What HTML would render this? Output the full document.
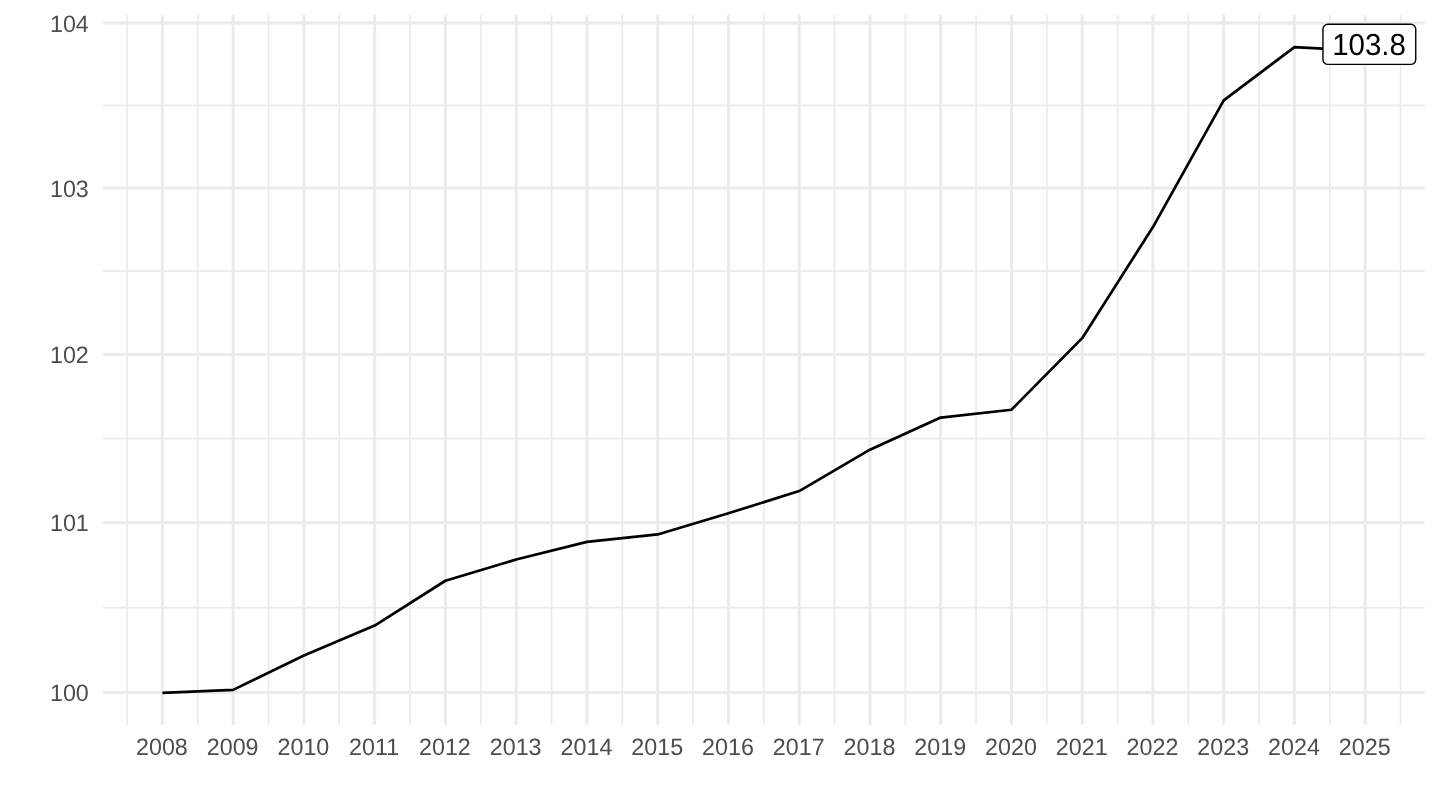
<!DOCTYPE html><html><head><meta charset="utf-8"><style>html,body{margin:0;padding:0;background:#fff;}svg{display:block;will-change:transform;text-rendering:geometricPrecision}</style></head><body>
<svg width="1440" height="810" viewBox="0 0 1440 810">
<rect width="1440" height="810" fill="#fff"/>
<g stroke="#EBEBEB" stroke-width="1.7"><line x1="102.9" x2="1424.8" y1="607.57" y2="607.57"/><line x1="102.9" x2="1424.8" y1="438.55" y2="438.55"/><line x1="102.9" x2="1424.8" y1="271.19" y2="271.19"/><line x1="102.9" x2="1424.8" y1="105.45" y2="105.45"/><line x1="127.02" x2="127.02" y1="14.9" y2="724.8"/><line x1="197.78" x2="197.78" y1="14.9" y2="724.8"/><line x1="268.53" x2="268.53" y1="14.9" y2="724.8"/><line x1="339.28" x2="339.28" y1="14.9" y2="724.8"/><line x1="410.04" x2="410.04" y1="14.9" y2="724.8"/><line x1="480.79" x2="480.79" y1="14.9" y2="724.8"/><line x1="551.54" x2="551.54" y1="14.9" y2="724.8"/><line x1="622.29" x2="622.29" y1="14.9" y2="724.8"/><line x1="693.05" x2="693.05" y1="14.9" y2="724.8"/><line x1="763.80" x2="763.80" y1="14.9" y2="724.8"/><line x1="834.55" x2="834.55" y1="14.9" y2="724.8"/><line x1="905.31" x2="905.31" y1="14.9" y2="724.8"/><line x1="976.06" x2="976.06" y1="14.9" y2="724.8"/><line x1="1046.81" x2="1046.81" y1="14.9" y2="724.8"/><line x1="1117.57" x2="1117.57" y1="14.9" y2="724.8"/><line x1="1188.32" x2="1188.32" y1="14.9" y2="724.8"/><line x1="1259.07" x2="1259.07" y1="14.9" y2="724.8"/><line x1="1329.82" x2="1329.82" y1="14.9" y2="724.8"/><line x1="1400.58" x2="1400.58" y1="14.9" y2="724.8"/></g>
<g stroke="#EBEBEB" stroke-width="3.0"><line x1="102.9" x2="1424.8" y1="692.50" y2="692.50"/><line x1="102.9" x2="1424.8" y1="522.64" y2="522.64"/><line x1="102.9" x2="1424.8" y1="354.46" y2="354.46"/><line x1="102.9" x2="1424.8" y1="187.92" y2="187.92"/><line x1="102.9" x2="1424.8" y1="22.99" y2="22.99"/><line x1="162.40" x2="162.40" y1="14.9" y2="724.8"/><line x1="233.15" x2="233.15" y1="14.9" y2="724.8"/><line x1="303.91" x2="303.91" y1="14.9" y2="724.8"/><line x1="374.66" x2="374.66" y1="14.9" y2="724.8"/><line x1="445.41" x2="445.41" y1="14.9" y2="724.8"/><line x1="516.16" x2="516.16" y1="14.9" y2="724.8"/><line x1="586.92" x2="586.92" y1="14.9" y2="724.8"/><line x1="657.67" x2="657.67" y1="14.9" y2="724.8"/><line x1="728.42" x2="728.42" y1="14.9" y2="724.8"/><line x1="799.18" x2="799.18" y1="14.9" y2="724.8"/><line x1="869.93" x2="869.93" y1="14.9" y2="724.8"/><line x1="940.68" x2="940.68" y1="14.9" y2="724.8"/><line x1="1011.44" x2="1011.44" y1="14.9" y2="724.8"/><line x1="1082.19" x2="1082.19" y1="14.9" y2="724.8"/><line x1="1152.94" x2="1152.94" y1="14.9" y2="724.8"/><line x1="1223.70" x2="1223.70" y1="14.9" y2="724.8"/><line x1="1294.45" x2="1294.45" y1="14.9" y2="724.8"/><line x1="1365.20" x2="1365.20" y1="14.9" y2="724.8"/></g>
<polyline points="162.40,692.85 233.15,689.85 303.91,655.55 374.66,625.55 445.41,580.75 516.16,559.55 586.92,541.85 657.67,534.45 728.42,513.25 799.18,491.05 869.93,449.65 940.68,417.55 1011.44,409.75 1082.19,338.15 1152.94,227.05 1223.70,100.45 1294.45,47.05 1365.20,50.85" fill="none" stroke="#000" stroke-width="2.7" stroke-linejoin="round" stroke-linecap="butt"/>
<g font-family="&quot;Liberation Sans&quot;, Arial, sans-serif" font-size="23.3" fill="#4D4D4D">
<text transform="translate(88.8,701.20) scale(1,1.02)" text-anchor="end">100</text>
<text transform="translate(88.8,531.34) scale(1,1.02)" text-anchor="end">101</text>
<text transform="translate(88.8,363.16) scale(1,1.02)" text-anchor="end">102</text>
<text transform="translate(88.8,196.62) scale(1,1.02)" text-anchor="end">103</text>
<text transform="translate(88.8,31.69) scale(1,1.02)" text-anchor="end">104</text>
<text transform="translate(161.90,754.8) scale(1,1.02)" text-anchor="middle">2008</text>
<text transform="translate(232.65,754.8) scale(1,1.02)" text-anchor="middle">2009</text>
<text transform="translate(303.41,754.8) scale(1,1.02)" text-anchor="middle">2010</text>
<text transform="translate(374.16,754.8) scale(1,1.02)" text-anchor="middle">2011</text>
<text transform="translate(444.91,754.8) scale(1,1.02)" text-anchor="middle">2012</text>
<text transform="translate(515.66,754.8) scale(1,1.02)" text-anchor="middle">2013</text>
<text transform="translate(586.42,754.8) scale(1,1.02)" text-anchor="middle">2014</text>
<text transform="translate(657.17,754.8) scale(1,1.02)" text-anchor="middle">2015</text>
<text transform="translate(727.92,754.8) scale(1,1.02)" text-anchor="middle">2016</text>
<text transform="translate(798.68,754.8) scale(1,1.02)" text-anchor="middle">2017</text>
<text transform="translate(869.43,754.8) scale(1,1.02)" text-anchor="middle">2018</text>
<text transform="translate(940.18,754.8) scale(1,1.02)" text-anchor="middle">2019</text>
<text transform="translate(1010.94,754.8) scale(1,1.02)" text-anchor="middle">2020</text>
<text transform="translate(1081.69,754.8) scale(1,1.02)" text-anchor="middle">2021</text>
<text transform="translate(1152.44,754.8) scale(1,1.02)" text-anchor="middle">2022</text>
<text transform="translate(1223.20,754.8) scale(1,1.02)" text-anchor="middle">2023</text>
<text transform="translate(1293.95,754.8) scale(1,1.02)" text-anchor="middle">2024</text>
<text transform="translate(1364.70,754.8) scale(1,1.02)" text-anchor="middle">2025</text>
</g>
<rect x="1322.93" y="24.2" width="92.82" height="40.2" rx="5" ry="5" fill="#fff" stroke="#000" stroke-width="1.4"/>
<text transform="translate(1369.05,55.3) scale(1,1.03)" x="0" y="0" text-anchor="middle" font-family="&quot;Liberation Sans&quot;, Arial, sans-serif" font-size="29.5" fill="#000">103.8</text>
</svg></body></html>
